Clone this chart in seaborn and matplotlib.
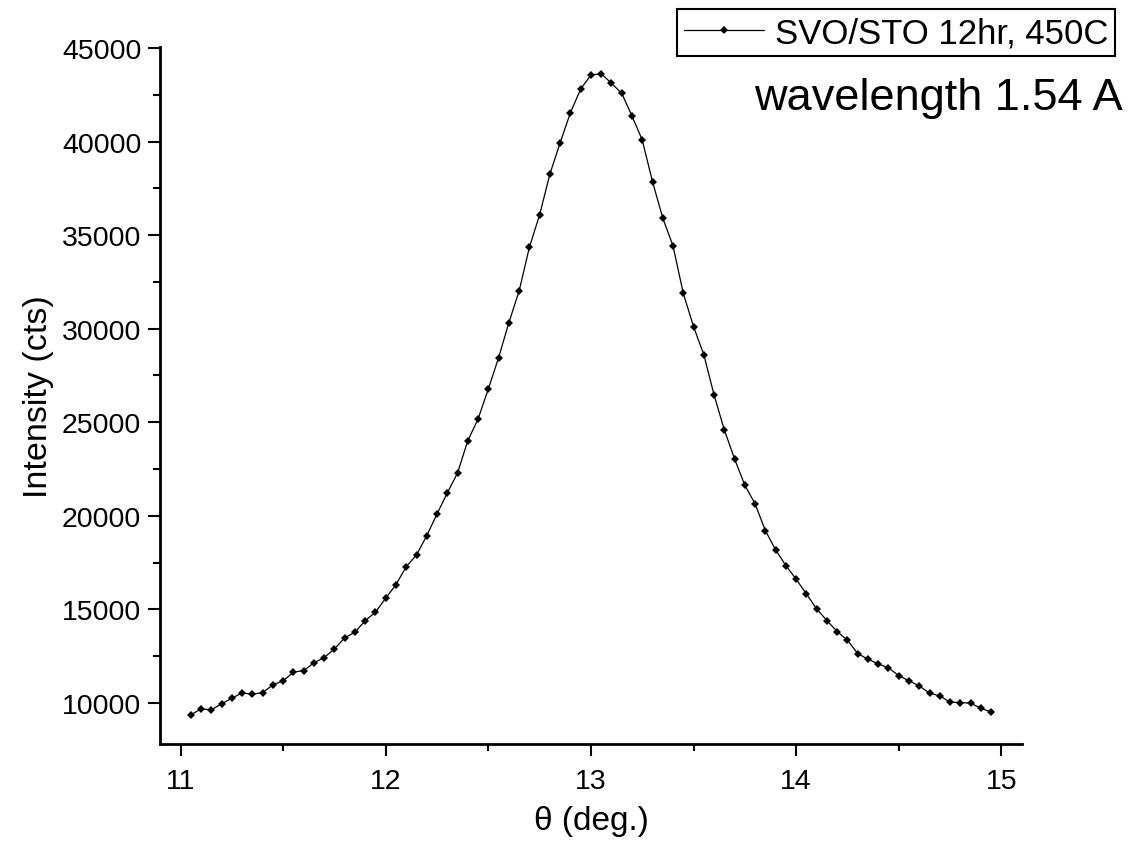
import matplotlib
matplotlib.use('Agg')
import matplotlib.pyplot as plt
import seaborn as sns
from matplotlib.ticker import MultipleLocator

# XRD rocking scan, SVO film on STO substrate
theta = [11.05, 11.10, 11.15, 11.20, 11.25, 11.30, 11.35, 11.40, 11.45, 11.50,
         11.55, 11.60, 11.65, 11.70, 11.75, 11.80, 11.85, 11.90, 11.95, 12.00,
         12.05, 12.10, 12.15, 12.20, 12.25, 12.30, 12.35, 12.40, 12.45, 12.50,
         12.55, 12.60, 12.65, 12.70, 12.75, 12.80, 12.85, 12.90, 12.95, 13.00,
         13.05, 13.10, 13.15, 13.20, 13.25, 13.30, 13.35, 13.40, 13.45, 13.50,
         13.55, 13.60, 13.65, 13.70, 13.75, 13.80, 13.85, 13.90, 13.95, 14.00,
         14.05, 14.10, 14.15, 14.20, 14.25, 14.30, 14.35, 14.40, 14.45, 14.50,
         14.55, 14.60, 14.65, 14.70, 14.75, 14.80, 14.85, 14.90, 14.95]
intensity = [9359, 9680, 9626, 9947, 10250, 10534, 10460, 10550, 10962, 11175,
             11640, 11726, 12137, 12420, 12885, 13473, 13780, 14397, 14846, 15600,
             16321, 17283, 17908, 18939, 20098, 21220, 22289, 24015, 25174, 26777,
             28450, 30320, 32013, 34348, 36090, 38264, 39937, 41540, 42806, 43554,
             43624, 43111, 42576, 41363, 40081, 37853, 35914, 34418, 31890, 30106,
             28610, 26456, 24586, 23037, 21631, 20633, 19206, 18175, 17336, 16609,
             15824, 15022, 14397, 13810, 13350, 12634, 12335, 12084, 11870, 11459,
             11175, 10908, 10518, 10374, 10037, 10016, 9984, 9717, 9503]
series_label = 'SVO/STO 12hr, 450C'

sns.set_style('ticks')
plt.rcParams['font.family'] = ['Liberation Sans', 'DejaVu Sans']
plt.rcParams['text.color'] = 'black'
plt.rcParams['axes.labelcolor'] = 'black'

fig = plt.figure(figsize=(11.31, 8.62), dpi=100)
ax = fig.add_axes([0.1415, 0.1357, 0.762, 0.8086])

# thin black line with small markers, like the instrument software export
sns.lineplot(x=theta, y=intensity, ax=ax, color='black', linewidth=0.9,
             marker='D', markersize=4.5, markeredgewidth=0, label=series_label)

ax.set_xlim(10.9, 15.1)
ax.set_ylim(7800, 45050)
ax.xaxis.set_major_locator(MultipleLocator(1))
ax.xaxis.set_minor_locator(MultipleLocator(0.5))
ax.yaxis.set_major_locator(MultipleLocator(5000))
ax.yaxis.set_minor_locator(MultipleLocator(2500))
ax.tick_params(which='major', direction='out', length=8.5, width=1.5,
               labelsize=20.5, color='black', labelcolor='black')
ax.tick_params(axis='x', which='major', pad=9)
ax.tick_params(axis='y', which='major', pad=5)
ax.tick_params(which='minor', direction='out', length=5, width=1.5, color='black')

sns.despine(ax=ax)
for side in ['left', 'bottom']:
    ax.spines[side].set_linewidth(2)
    ax.spines[side].set_color('black')

ax.set_xlabel('\u03b8 (deg.)', fontsize=24, labelpad=8, color='black')
ax.set_ylabel('Intensity (cts)', fontsize=24.5, labelpad=6, color='black')

# legend sits above the axes in the top right corner of the figure
leg = ax.legend(loc='upper right', bbox_to_anchor=(1115 / 1131, 0.988),
                bbox_transform=fig.transFigure, fontsize=25, frameon=True,
                fancybox=False, edgecolor='black', framealpha=1, borderpad=0.2,
                handlelength=2.3, handletextpad=0.3, borderaxespad=0)
leg.get_frame().set_linewidth(1.5)
for txt in leg.get_texts():
    txt.set_color('black')

fig.text(1123 / 1131, 1 - 110 / 862, 'wavelength 1.54 A', ha='right',
         va='baseline', fontsize=32.5, color='black')

fig.savefig('out.png', dpi=100)
